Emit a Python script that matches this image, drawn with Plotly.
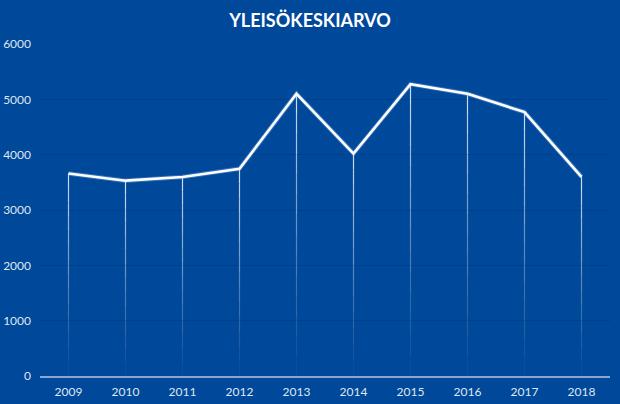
import plotly.graph_objects as go

years = ["2009", "2010", "2011", "2012", "2013", "2014", "2015", "2016", "2017", "2018"]
attendance = [3660, 3530, 3595, 3745, 5100, 4020, 5275, 5100, 4770, 3600]
y_ticks = [0, 1000, 2000, 3000, 4000, 5000, 6000]
title_text = "YLEISÖKESKIARVO"

BG = "#00489a"
fig = go.Figure()

# fading drop lines, drawn in steps of decreasing opacity
steps = 14
for i, (yr, v) in enumerate(zip(years, attendance)):
    for k in range(steps):
        top = v * (1 - k / steps)
        bot = v * (1 - (k + 1) / steps)
        alpha = 0.8 * (1 - k / steps) ** 1.2
        fig.add_trace(go.Scatter(
            x=[yr, yr], y=[top, bot], mode="lines",
            line=dict(color=f"rgba(255,255,255,{alpha:.3f})", width=1.2),
            hoverinfo="skip", showlegend=False))

# glow under main line
fig.add_trace(go.Scatter(x=years, y=attendance, mode="lines",
                         line=dict(color="rgba(150,190,240,0.35)", width=4.5),
                         hoverinfo="skip", showlegend=False))
fig.add_trace(go.Scatter(x=years, y=attendance, mode="lines",
                         line=dict(color="white", width=2.6),
                         showlegend=False))

fig.update_layout(
    width=620, height=404,
    paper_bgcolor=BG, plot_bgcolor=BG,
    margin=dict(l=40, r=10, t=44, b=28, autoexpand=False),
    title=dict(text=f"<b>{title_text}</b>", x=0.5, xanchor="center", y=0.95, yanchor="middle",
               font=dict(family="Lato, Open Sans, sans-serif", size=18, color="white"),
               automargin=False),
    font=dict(family="Lato, Open Sans, sans-serif", size=12, color="#dfe7f3"),
    xaxis=dict(type="category", range=[-0.5, 9.5], showgrid=False, zeroline=False,
               showline=True, linecolor="#8aa6d2", linewidth=2,
               ticks="", ticklabelstandoff=4, automargin=False),
    yaxis=dict(range=[0, 6000], tickvals=y_ticks, showgrid=True,
               gridcolor="rgba(0,35,100,0.25)", gridwidth=1, zeroline=False,
               showline=False, ticks="", ticklabelstandoff=8, automargin=False),
)

fig.write_html("out.html", config={"displayModeBar": False})
with open("out.html", encoding="utf-8") as f:
    html = f.read()
html = html.replace("<body>", '<body style="margin:0;padding:0;background:%s">' % BG, 1)
with open("out.html", "w", encoding="utf-8") as f:
    f.write(html)
